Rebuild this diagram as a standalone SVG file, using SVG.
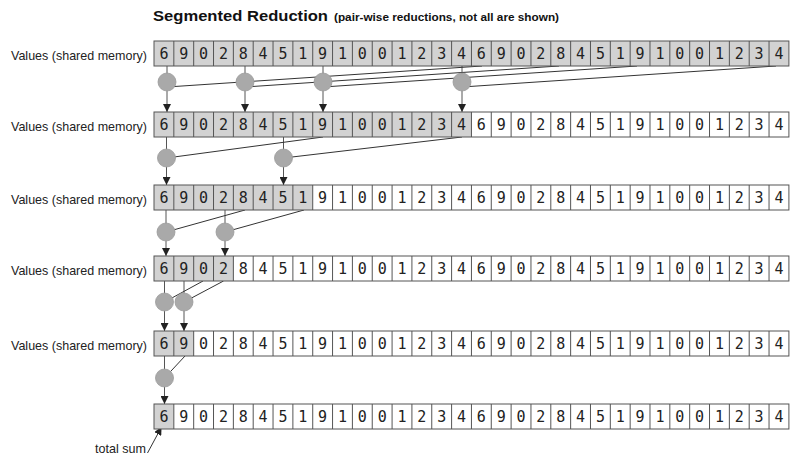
<svg xmlns="http://www.w3.org/2000/svg" xmlns:xlink="http://www.w3.org/1999/xlink" width="800" height="462" viewBox="0 0 800 462">
<style>
.title{font-family:"Liberation Sans",Arial,sans-serif;font-weight:bold;fill:#111}
.lbl{font-family:"Liberation Sans",Arial,sans-serif;font-size:13.5px;fill:#222}
.num{font-family:"DejaVu Sans Mono","Liberation Mono",monospace;font-size:15px;fill:#222;text-anchor:middle}
.bgw{fill:#ffffff}
.bgg{fill:#d2d2d2}
.outline{fill:none;stroke:#555;stroke-width:1}
.div{fill:none;stroke:#555;stroke-width:1}
.vl{stroke:#555;stroke-width:1;fill:none}
.dl{stroke:#333;stroke-width:1;fill:none}
.op{fill:#a9a9a9;stroke:#9a9a9a;stroke-width:0.8}
</style>
<defs>
<path id="dividers" class="div" d="M19.84,0v25m19.84,-25v25m19.84,-25v25m19.84,-25v25m19.84,-25v25m19.84,-25v25m19.84,-25v25m19.84,-25v25m19.84,-25v25m19.84,-25v25m19.84,-25v25m19.84,-25v25m19.84,-25v25m19.84,-25v25m19.84,-25v25m19.84,-25v25m19.84,-25v25m19.84,-25v25m19.84,-25v25m19.84,-25v25m19.84,-25v25m19.84,-25v25m19.84,-25v25m19.84,-25v25m19.84,-25v25m19.84,-25v25m19.84,-25v25m19.84,-25v25m19.84,-25v25m19.84,-25v25m19.84,-25v25"/>
<marker id="arr" viewBox="0 0 8 8" refX="8" refY="4" markerWidth="8" markerHeight="8" markerUnits="userSpaceOnUse" orient="auto">
<path d="M0,0L8,4L0,8z" fill="#222"/>
</marker>
</defs>

<g id="title">
<text class="title" x="153" y="21" font-size="15" textLength="175" lengthAdjust="spacingAndGlyphs">Segmented Reduction</text>
<text class="title" x="334" y="21" font-size="11.8" textLength="225" lengthAdjust="spacingAndGlyphs">(pair-wise reductions, not all are shown)</text>
</g>

<g id="connectors">
<line class="vl" x1="167" y1="66" x2="167" y2="112" marker-end="url(#arr)"/>
<line class="vl" x1="245" y1="66" x2="245" y2="112" marker-end="url(#arr)"/>
<line class="vl" x1="323" y1="66" x2="323" y2="112" marker-end="url(#arr)"/>
<line class="vl" x1="462" y1="66" x2="462" y2="112" marker-end="url(#arr)"/>
<line class="dl" x1="482" y1="66" x2="167" y2="87"/>
<line class="dl" x1="559" y1="66" x2="245" y2="87"/>
<line class="dl" x1="637" y1="66" x2="323" y2="87"/>
<line class="dl" x1="776" y1="66" x2="462" y2="87"/>
<line class="vl" x1="166.5" y1="137" x2="166.5" y2="185" marker-end="url(#arr)"/>
<line class="vl" x1="283.5" y1="137" x2="283.5" y2="185" marker-end="url(#arr)"/>
<line class="dl" x1="323" y1="137" x2="166.5" y2="158"/>
<line class="dl" x1="462" y1="137" x2="283.5" y2="158"/>
<line class="vl" x1="166" y1="210" x2="166" y2="256" marker-end="url(#arr)"/>
<line class="vl" x1="225" y1="210" x2="225" y2="256" marker-end="url(#arr)"/>
<line class="dl" x1="245" y1="210" x2="166" y2="232"/>
<line class="dl" x1="304" y1="210" x2="225" y2="232"/>
<line class="vl" x1="164.5" y1="281" x2="164.5" y2="331" marker-end="url(#arr)"/>
<line class="vl" x1="184" y1="281" x2="184" y2="331" marker-end="url(#arr)"/>
<line class="dl" x1="203" y1="281" x2="164.5" y2="302"/>
<line class="dl" x1="223.5" y1="281" x2="184" y2="302"/>
<line class="vl" x1="164.5" y1="356" x2="164.5" y2="404" marker-end="url(#arr)"/>
<line class="dl" x1="185" y1="356" x2="164.5" y2="378"/>
<line class="dl" x1="147.5" y1="453" x2="161.5" y2="427" marker-end="url(#arr)"/>
</g>

<g id="row1">
<text class="lbl" x="11" y="59.5" textLength="136" lengthAdjust="spacingAndGlyphs">Values (shared memory)</text>
<rect class="bgg" x="154" y="41" width="634.9" height="25"/>
<use xlink:href="#dividers" href="#dividers" x="154" y="41"/>
<rect class="outline" x="154" y="41" width="634.9" height="25"/>
<text class="num" y="59" x="163.92 183.76 203.6 223.44 243.28 263.12 282.96 302.8 322.64 342.48 362.32 382.16 402 421.84 441.68 461.52 481.36 501.2 521.04 540.88 560.72 580.56 600.4 620.24 640.08 659.92 679.76 699.6 719.44 739.28 759.12 778.96">69028451910012346902845191001234</text>
</g>

<g id="row2">
<text class="lbl" x="11" y="130.5" textLength="136" lengthAdjust="spacingAndGlyphs">Values (shared memory)</text>
<rect class="bgw" x="154" y="112" width="634.9" height="25"/>
<rect class="bgg" x="154" y="112" width="317.44" height="25"/>
<use xlink:href="#dividers" href="#dividers" x="154" y="112"/>
<rect class="outline" x="154" y="112" width="634.9" height="25"/>
<text class="num" y="130" x="163.92 183.76 203.6 223.44 243.28 263.12 282.96 302.8 322.64 342.48 362.32 382.16 402 421.84 441.68 461.52 481.36 501.2 521.04 540.88 560.72 580.56 600.4 620.24 640.08 659.92 679.76 699.6 719.44 739.28 759.12 778.96">69028451910012346902845191001234</text>
</g>

<g id="row3">
<text class="lbl" x="11" y="203.5" textLength="136" lengthAdjust="spacingAndGlyphs">Values (shared memory)</text>
<rect class="bgw" x="154" y="185" width="634.9" height="25"/>
<rect class="bgg" x="154" y="185" width="158.72" height="25"/>
<use xlink:href="#dividers" href="#dividers" x="154" y="185"/>
<rect class="outline" x="154" y="185" width="634.9" height="25"/>
<text class="num" y="203" x="163.92 183.76 203.6 223.44 243.28 263.12 282.96 302.8 322.64 342.48 362.32 382.16 402 421.84 441.68 461.52 481.36 501.2 521.04 540.88 560.72 580.56 600.4 620.24 640.08 659.92 679.76 699.6 719.44 739.28 759.12 778.96">69028451910012346902845191001234</text>
</g>

<g id="row4">
<text class="lbl" x="11" y="274.5" textLength="136" lengthAdjust="spacingAndGlyphs">Values (shared memory)</text>
<rect class="bgw" x="154" y="256" width="634.9" height="25"/>
<rect class="bgg" x="154" y="256" width="79.36" height="25"/>
<use xlink:href="#dividers" href="#dividers" x="154" y="256"/>
<rect class="outline" x="154" y="256" width="634.9" height="25"/>
<text class="num" y="274" x="163.92 183.76 203.6 223.44 243.28 263.12 282.96 302.8 322.64 342.48 362.32 382.16 402 421.84 441.68 461.52 481.36 501.2 521.04 540.88 560.72 580.56 600.4 620.24 640.08 659.92 679.76 699.6 719.44 739.28 759.12 778.96">69028451910012346902845191001234</text>
</g>

<g id="row5">
<text class="lbl" x="11" y="349.5" textLength="136" lengthAdjust="spacingAndGlyphs">Values (shared memory)</text>
<rect class="bgw" x="154" y="331" width="634.9" height="25"/>
<rect class="bgg" x="154" y="331" width="39.68" height="25"/>
<use xlink:href="#dividers" href="#dividers" x="154" y="331"/>
<rect class="outline" x="154" y="331" width="634.9" height="25"/>
<text class="num" y="349" x="163.92 183.76 203.6 223.44 243.28 263.12 282.96 302.8 322.64 342.48 362.32 382.16 402 421.84 441.68 461.52 481.36 501.2 521.04 540.88 560.72 580.56 600.4 620.24 640.08 659.92 679.76 699.6 719.44 739.28 759.12 778.96">69028451910012346902845191001234</text>
</g>

<g id="row6">
<rect class="bgw" x="154" y="404" width="634.9" height="25"/>
<rect class="bgg" x="154" y="404" width="19.84" height="25"/>
<use xlink:href="#dividers" href="#dividers" x="154" y="404"/>
<rect class="outline" x="154" y="404" width="634.9" height="25"/>
<text class="num" y="422" x="163.92 183.76 203.6 223.44 243.28 263.12 282.96 302.8 322.64 342.48 362.32 382.16 402 421.84 441.68 461.52 481.36 501.2 521.04 540.88 560.72 580.56 600.4 620.24 640.08 659.92 679.76 699.6 719.44 739.28 759.12 778.96">69028451910012346902845191001234</text>
</g>

<g id="op-1-0"><circle class="op" cx="167" cy="82" r="9"/></g>
<g id="op-1-4"><circle class="op" cx="245" cy="82" r="9"/></g>
<g id="op-1-8"><circle class="op" cx="323" cy="82" r="9"/></g>
<g id="op-1-15"><circle class="op" cx="462" cy="82" r="9"/></g>
<g id="op-2-0"><circle class="op" cx="166.5" cy="158" r="9"/></g>
<g id="op-2-6"><circle class="op" cx="283.5" cy="158" r="9"/></g>
<g id="op-3-0"><circle class="op" cx="166" cy="232" r="9"/></g>
<g id="op-3-3"><circle class="op" cx="225" cy="232" r="9"/></g>
<g id="op-4-0"><circle class="op" cx="164.5" cy="302" r="9"/></g>
<g id="op-4-1"><circle class="op" cx="184" cy="302" r="9"/></g>
<g id="op-5-0"><circle class="op" cx="164.5" cy="378" r="9"/></g>

<g id="total-sum">
<text class="lbl" x="95" y="453" textLength="51" lengthAdjust="spacingAndGlyphs">total sum</text>
</g>
</svg>
